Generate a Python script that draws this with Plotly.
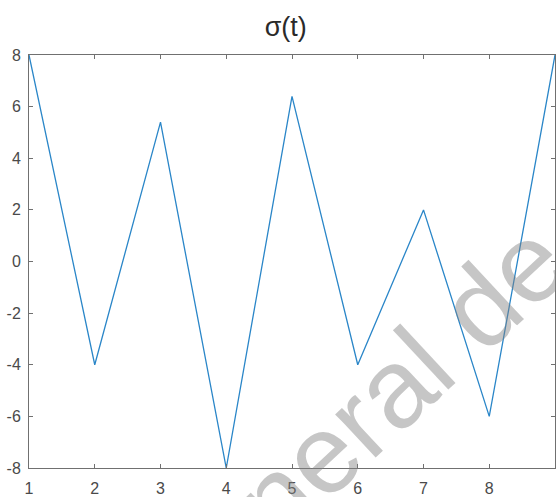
import plotly.graph_objects as go

t = [1, 2, 3, 4, 5, 6, 7, 8, 9]
sigma = [8, -4, 5.4, -8, 6.4, -4, 2, -6, 8]
x_ticks = [1, 2, 3, 4, 5, 6, 7, 8, 9]
y_ticks = [-8, -6, -4, -2, 0, 2, 4, 6, 8]
y_tick_labels = ["-8", "-6", "-4", "-2", "0", "2", "4", "6", "8"]
title_text = "σ(t)"
watermark = "neral de"

fig = go.Figure()
fig.add_trace(go.Scatter(x=t, y=sigma, mode="lines",
                         line=dict(color="#2a86c8", width=1.3),
                         showlegend=False))

axis_common = dict(showgrid=False, zeroline=False, showline=True, linecolor="#707070",
                   linewidth=1, mirror="ticks", ticks="inside", ticklen=4,
                   tickcolor="#707070", tickwidth=1,
                   tickfont=dict(family="Liberation Sans, Arial", size=16, color="#4a4a4a"))

fig.update_xaxes(range=[1, 9], tickvals=x_ticks, ticklabelstandoff=6, **axis_common)
fig.update_yaxes(range=[-8, 8], tickvals=y_ticks, ticktext=y_tick_labels,
                 ticklabelstandoff=4, **axis_common)

fig.add_annotation(text=watermark, xref="paper", yref="paper", x=0.706, y=0.21,
                   xanchor="center", yanchor="middle", textangle=-43, showarrow=False,
                   font=dict(family="Liberation Sans, Arial", size=112,
                             color="rgba(128,128,128,0.45)"))

fig.update_layout(
    width=556, height=497,
    margin=dict(l=29, r=1, t=55, b=29),
    paper_bgcolor="white", plot_bgcolor="white",
    title=dict(text=title_text, x=0.514, xanchor="center", y=0.946, yanchor="middle",
               font=dict(family="Liberation Sans, Arial", size=27, color="#2a2a2a")),
)

fig.write_html("out.html")
